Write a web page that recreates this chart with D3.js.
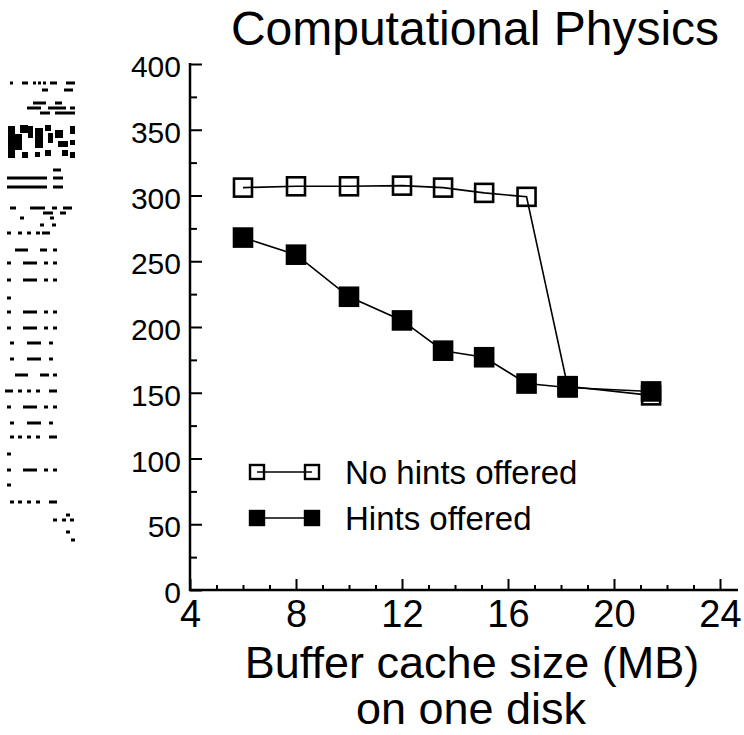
<!DOCTYPE html>
<html>
<head>
<meta charset="utf-8">
<script src="https://cdn.jsdelivr.net/npm/d3@7"></script>
<style>
  body { margin: 0; background: #fff; }
  text { font-family: "Liberation Sans", Arial, sans-serif; fill: #000; }
</style>
</head>
<body>
<div class="canvas"></div>
<script>
// data
const cacheSizes = [6, 8, 10, 12, 13.55, 15.1, 16.7, 18.25, 21.4];
const noHints = [306, 307, 307, 307.5, 306, 302, 299, 155, 148];
const hints = [268, 255, 223, 205, 182, 177, 157, 154, 151];
const seriesNames = ['No hints offered', 'Hints offered'];
const xTicks = [4, 8, 12, 16, 20, 24];
const xMinorTicks = d3.range(5, 24, 1).filter(d => d % 4 !== 0);
const yTicks = [0, 50, 100, 150, 200, 250, 300, 350, 400];
const yMinorTicks = [25, 75, 125, 175, 225, 275, 325, 375];

// the y label in the source is a garbled bitmap, drawn as rough blocks
const smudgeRows = [
  [83, [[10, 13], [22, 28], [33, 36], [38, 41], [43, 46], [50, 57], [66, 75]]],
  [90, [[42, 48], [64, 73]]],
  [103, [[33, 46], [55, 62]]],
  [108, [[27, 41], [48, 66], [70, 75]]],
  [113, [[40, 50], [55, 75]]],
  [170, [[53, 61]]],
  [178, [[7, 47], [53, 63]]],
  [187, [[7, 47], [53, 63]]],
  [208, [[10, 16], [30, 45], [52, 57], [63, 72]]],
  [213, [[43, 53], [60, 66]]],
  [218, [[20, 24], [50, 54]]],
  [225, [[40, 44], [52, 56]]],
  [233, [[7, 11], [18, 22], [27, 31], [36, 40], [42, 50]]],
  [250, [[15, 28], [40, 47], [53, 57]]],
  [263, [[7, 11], [23, 37], [44, 48], [53, 57]]],
  [280, [[7, 11], [23, 37], [44, 48], [53, 57]]],
  [298, [[7, 11]]],
  [312, [[7, 11], [23, 37], [44, 48], [53, 57]]],
  [328, [[7, 11], [23, 37], [44, 48], [53, 57]]],
  [343, [[10, 14], [27, 41], [49, 53]]],
  [359, [[10, 14], [27, 41], [49, 53]]],
  [375, [[15, 28], [40, 49], [53, 57]]],
  [391, [[5, 13], [18, 22], [27, 31], [36, 40], [49, 57]]],
  [407, [[7, 11], [23, 37], [44, 48], [53, 57]]],
  [423, [[10, 14], [27, 41], [49, 53]]],
  [437, [[10, 14], [18, 22], [27, 31], [36, 40], [49, 57]]],
  [454, [[7, 11]]],
  [470, [[7, 11], [23, 37], [44, 48], [53, 57]]],
  [485, [[7, 11]]],
  [502, [[10, 14], [18, 22], [27, 31], [36, 40], [49, 57]]],
  [515, [[66, 70]]],
  [520, [[53, 57], [62, 66], [70, 74]]],
  [532, [[66, 70]]],
  [540, [[71, 75]]]
];
const smudgeBlocks = [
  [8, 126, 7, 32], [15, 134, 7, 16], [20, 125, 8, 8], [28, 126, 5, 12],
  [35, 128, 8, 20], [45, 125, 6, 6], [48, 133, 5, 10], [55, 130, 8, 8],
  [58, 141, 10, 6], [45, 150, 6, 6], [62, 150, 6, 6], [70, 126, 5, 8],
  [70, 140, 5, 5], [70, 152, 5, 6], [22, 152, 6, 6], [35, 152, 5, 5]
];

const margins = { top: 64, left: 190 };
const canvasWidth = 744;
const canvasHeight = 735;
const graphWidth = 530;
const graphHeight = 526;
const font = '"Liberation Sans", Arial, sans-serif';

const svg = d3
  .select('.canvas')
  .append('svg')
  .attr('width', canvasWidth)
  .attr('height', canvasHeight);

const graph = svg
  .append('g')
  .attr('transform', `translate(${margins.left}, ${margins.top})`);

// Scales
const x = d3.scaleLinear().domain([4, 24]).range([0, graphWidth]);
const y = d3.scaleLinear().domain([0, 400]).range([graphHeight, 0]);

// Axes (ticks point inward)
const yAxisGroup = graph.append('g').call(
  d3.axisLeft(y).tickValues(yTicks).tickSize(-12).tickSizeOuter(0).tickPadding(9)
);
const yMinorGroup = graph.append('g').call(
  d3.axisLeft(y).tickValues(yMinorTicks).tickSize(-7).tickSizeOuter(0).tickFormat('')
);
const xAxisGroup = graph
  .append('g')
  .attr('transform', `translate(0, ${graphHeight})`)
  .call(d3.axisBottom(x).tickValues(xTicks).tickSize(-11).tickSizeOuter(0).tickPadding(10));
const xMinorGroup = graph
  .append('g')
  .attr('transform', `translate(0, ${graphHeight})`)
  .call(d3.axisBottom(x).tickValues(xMinorTicks).tickSize(-5).tickSizeOuter(0).tickFormat(''));

[yAxisGroup, yMinorGroup, xAxisGroup, xMinorGroup].forEach(g => {
  g.select('.domain').remove();
  g.selectAll('line').attr('stroke', '#000').attr('stroke-width', 2);
  g.selectAll('text').style('font-family', font);
});
yAxisGroup.selectAll('text').style('font-size', '30px').attr('dy', '0.42em');
xAxisGroup.selectAll('text').style('font-size', '38px');

// axis lines
graph.append('line')
  .attr('x1', x(4)).attr('x2', x(4))
  .attr('y1', y(0) + 1).attr('y2', y(400) - 1)
  .attr('stroke', '#000').attr('stroke-width', 2.5);
graph.append('line')
  .attr('x1', x(4) - 1).attr('x2', x(24.68))
  .attr('y1', y(0)).attr('y2', y(0))
  .attr('stroke', '#000').attr('stroke-width', 2.5);

// series
const line = d3.line().x(d => x(d[0])).y(d => y(d[1]));
const series = [
  { name: seriesNames[0], values: noHints, fill: 'none' },
  { name: seriesNames[1], values: hints, fill: '#000' }
];
const sq = 18;

series.forEach(s => {
  const pts = cacheSizes.map((c, i) => [c, s.values[i]]);
  graph.append('path')
    .datum(pts)
    .attr('fill', 'none')
    .attr('stroke', '#000')
    .attr('stroke-width', 1.6)
    .attr('d', line);
  graph.append('g')
    .selectAll('rect')
    .data(pts)
    .enter()
    .append('rect')
    .attr('x', d => x(d[0]) - sq / 2)
    .attr('y', d => y(d[1]) - sq / 2)
    .attr('width', sq)
    .attr('height', sq)
    .attr('fill', s.fill)
    .attr('stroke', '#000')
    .attr('stroke-width', 2.6);
});

// legend
const legend = graph.append('g').attr('transform', 'translate(67, 408)');
series.forEach((s, i) => {
  const row = legend.append('g').attr('transform', `translate(0, ${i * 46})`);
  row.append('line')
    .attr('x1', 0).attr('x2', 55)
    .attr('stroke', '#000').attr('stroke-width', 1.6);
  [0, 55].forEach(cx => {
    row.append('rect')
      .attr('x', cx - 7).attr('y', -7)
      .attr('width', 14).attr('height', 14)
      .attr('fill', s.fill)
      .attr('stroke', '#000')
      .attr('stroke-width', 2.4);
  });
  row.append('text')
    .attr('x', 88)
    .attr('y', 12)
    .style('font-size', '33px')
    .text(s.name);
});

// titles
svg.append('text')
  .attr('x', 475).attr('y', 45)
  .attr('text-anchor', 'middle')
  .style('font-size', '48px')
  .text('Computational Physics');

const xTitle = svg.append('text')
  .attr('text-anchor', 'middle')
  .style('font-size', '45px');
xTitle.append('tspan').attr('x', 472).attr('y', 678).text('Buffer cache size (MB)');
xTitle.append('tspan').attr('x', 471).attr('y', 724).text('on one disk');

// smudged y label
const smudge = svg.append('g').attr('fill', '#000');
smudgeRows.forEach(([ry, segs]) => {
  segs.forEach(([a, b]) => {
    smudge.append('rect').attr('x', a).attr('y', ry - 1.5).attr('width', b - a).attr('height', 3);
  });
});
smudgeBlocks.forEach(([bx, by, bw, bh]) => {
  smudge.append('rect').attr('x', bx).attr('y', by).attr('width', bw).attr('height', bh);
});
</script>
</body>
</html>
